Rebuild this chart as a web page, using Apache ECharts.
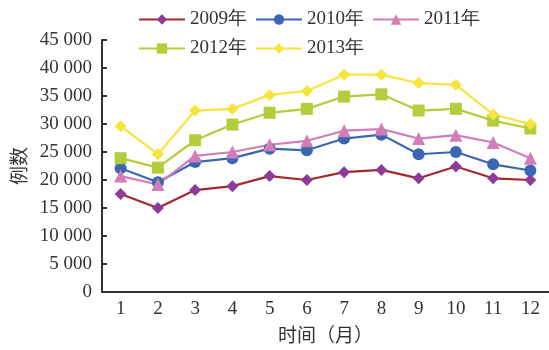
<!DOCTYPE html>
<html><head><meta charset="utf-8">
<script src="https://cdn.jsdelivr.net/npm/echarts@6/dist/echarts.min.js"></script>
<style>html,body{margin:0;padding:0;background:#fff}#c{width:549px;height:350px}</style>
</head><body><div id="c"></div>
<script>
var months = ['1','2','3','4','5','6','7','8','9','10','11','12'];
var y2009 = [17500, 15000, 18200, 18900, 20700, 20000, 21400, 21800, 20300, 22400, 20300, 20000];
var y2010 = [22100, 19600, 23200, 23900, 25600, 25300, 27400, 28100, 24600, 25000, 22800, 21700];
var y2011 = [20700, 19200, 24300, 25000, 26300, 27000, 28800, 29100, 27400, 28000, 26700, 23900];
var y2012 = [23900, 22200, 27100, 29900, 32000, 32700, 34900, 35300, 32400, 32700, 30600, 29200];
var y2013 = [29600, 24600, 32400, 32700, 35200, 35900, 38800, 38800, 37300, 37000, 31700, 30000];
var yTicks = [0, 5000, 10000, 15000, 20000, 25000, 30000, 35000, 40000, 45000];

var serif = '"Liberation Serif","Times New Roman",serif';
var cjk = '"Noto Sans CJK SC",sans-serif';
function fmt(v){ if (v === 0) return '0'; var s = String(v); return s.slice(0, s.length-3) + ' ' + s.slice(-3); }
function mk(name, data, lineColor, markColor, symbol, size){
  return {name:name, type:'line', data:data, symbol:symbol, symbolSize:size,
    lineStyle:{color:lineColor, width:2.2}, itemStyle:{color:markColor, borderWidth:0},
    color: lineColor};
}
var legendText = {fontFamily:serif, fontSize:19, color:'#333'};
var chart = echarts.init(document.getElementById('c'));
chart.setOption({
  animation:false,
  legend:[{
    left:133, top:5, itemWidth:46, itemHeight:13, itemGap:8,
    textStyle:legendText,
    data:['2009年','2010年','2011年']
  },{
    left:133, top:34, itemWidth:46, itemHeight:13, itemGap:8,
    textStyle:legendText,
    data:['2012年','2013年']
  }],
  grid:{left:102, right:0, top:40, bottom:58},
  xAxis:{type:'category', data:months, boundaryGap:true,
    name:'时间（月）', nameLocation:'middle', nameGap:33,
    nameTextStyle:{fontFamily:cjk, fontSize:19, color:'#333'},
    axisLine:{lineStyle:{color:'#333', width:2}},
    axisTick:{inside:true, length:5, lineStyle:{color:'#333', width:2}},
    axisLabel:{fontFamily:serif, fontSize:19, color:'#333', margin:8}
  },
  yAxis:{type:'value', min:0, max:45000, interval:5000,
    name:'例数', nameLocation:'middle', nameGap:74, nameRotate:90,
    nameTextStyle:{fontFamily:cjk, fontSize:19, color:'#333'},
    axisLine:{show:true, lineStyle:{color:'#333', width:2}},
    axisTick:{show:true, inside:true, length:5, lineStyle:{color:'#333', width:2}},
    splitLine:{show:false},
    axisLabel:{fontFamily:serif, fontSize:19, color:'#333', margin:10,
      formatter:function(v){ return yTicks.indexOf(v) >= 0 ? fmt(v) : ''; }}
  },
  series:[
    mk('2009年', y2009, '#a5282e', '#8e3a97', 'diamond', 12),
    mk('2010年', y2010, '#3b66b2', '#3b66b2', 'circle', 12),
    mk('2011年', y2011, '#d27db8', '#d27db8', 'triangle', 13),
    mk('2012年', y2012, '#b3ce3c', '#b3ce3c', 'rect', 12),
    mk('2013年', y2013, '#f7e43c', '#f7e43c', 'diamond', 12)
  ]
});
</script></body></html>
